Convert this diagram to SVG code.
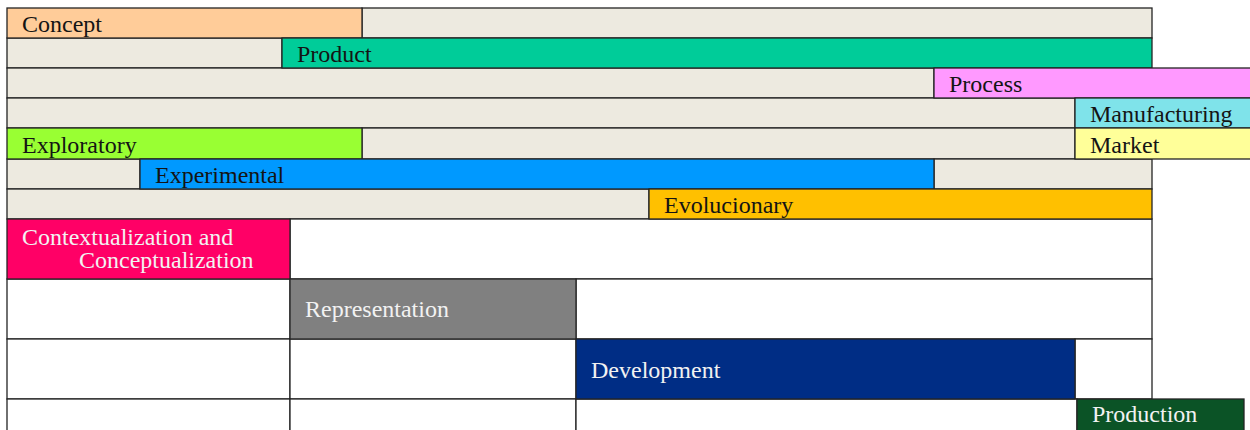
<svg xmlns="http://www.w3.org/2000/svg" width="1250" height="430" viewBox="0 0 1250 430">
  <style>
    .cell { stroke: #242424; stroke-width: 1.3; }
    .fill { fill: #edeae0; }
    .blank { fill: #ffffff; }
    text { font-family: "Liberation Serif", "Times New Roman", serif; font-size: 24px; }
    .dark { fill: #141414; }
    .light { fill: #f2f2f2; }
  </style>
  <rect x="0" y="0" width="1250" height="430" fill="#ffffff"/>

  <!-- filler cells of the timeline grid -->
  <g id="grid">
    <rect class="cell fill" x="362" y="8" width="790" height="30"/>
    <rect class="cell fill" x="7" y="38" width="275" height="30"/>
    <rect class="cell fill" x="7" y="68" width="927" height="30"/>
    <rect class="cell fill" x="7" y="98" width="1068" height="30"/>
    <rect class="cell fill" x="362" y="128" width="713" height="31"/>
    <rect class="cell fill" x="7" y="159" width="133" height="30"/>
    <rect class="cell fill" x="934" y="159" width="218" height="30"/>
    <rect class="cell fill" x="7" y="189" width="642" height="30"/>
    <rect class="cell blank" x="290" y="219" width="862" height="60"/>
    <rect class="cell blank" x="7" y="279" width="283" height="60"/>
    <rect class="cell blank" x="576" y="279" width="576" height="60"/>
    <rect class="cell blank" x="7" y="339" width="283" height="60"/>
    <rect class="cell blank" x="290" y="339" width="286" height="60"/>
    <rect class="cell blank" x="1075" y="339" width="77" height="60"/>
    <rect class="cell blank" x="7" y="399" width="283" height="40"/>
    <rect class="cell blank" x="290" y="399" width="286" height="40"/>
    <rect class="cell blank" x="576" y="399" width="501" height="40"/>
  </g>

  <g id="connectors"></g>

  <g id="concept">
    <rect class="cell" x="7" y="8" width="355" height="30" fill="#ffcc99"/>
    <text class="dark" x="22" y="32">Concept</text>
  </g>
  <g id="product">
    <rect class="cell" x="282" y="38" width="870" height="30" fill="#00cc99"/>
    <text class="dark" x="297" y="62">Product</text>
  </g>
  <g id="process">
    <rect class="cell" x="934" y="68" width="330" height="30" fill="#ff99ff"/>
    <text class="dark" x="949" y="92">Process</text>
  </g>
  <g id="manufacturing">
    <rect class="cell" x="1075" y="98" width="190" height="30" fill="#7fe3ea"/>
    <text class="dark" x="1090" y="122">Manufacturing</text>
  </g>
  <g id="exploratory">
    <rect class="cell" x="7" y="128" width="355" height="31" fill="#99ff33"/>
    <text class="dark" x="22" y="153">Exploratory</text>
  </g>
  <g id="market">
    <rect class="cell" x="1075" y="128" width="190" height="31" fill="#ffff99"/>
    <text class="dark" x="1090" y="153">Market</text>
  </g>
  <g id="experimental">
    <rect class="cell" x="140" y="159" width="794" height="30" fill="#0099ff"/>
    <text class="dark" x="155" y="183">Experimental</text>
  </g>
  <g id="evolucionary">
    <rect class="cell" x="649" y="189" width="503" height="30" fill="#ffc000"/>
    <text class="dark" x="664" y="213">Evolucionary</text>
  </g>
  <g id="contextualization">
    <rect class="cell" x="7" y="219" width="283" height="60" fill="#ff0066"/>
    <text class="light"><tspan x="22" y="245">Contextualization and</tspan><tspan x="79" y="268">Conceptualization</tspan></text>
  </g>
  <g id="representation">
    <rect class="cell" x="290" y="279" width="286" height="60" fill="#808080"/>
    <text class="light" x="305" y="317">Representation</text>
  </g>
  <g id="development">
    <rect class="cell" x="576" y="339" width="499" height="60" fill="#002d85"/>
    <text class="light" x="591" y="378">Development</text>
  </g>
  <g id="production">
    <rect class="cell" x="1077" y="399" width="167" height="40" fill="#0b5326"/>
    <text class="light" x="1092" y="422">Production</text>
  </g>
</svg>
